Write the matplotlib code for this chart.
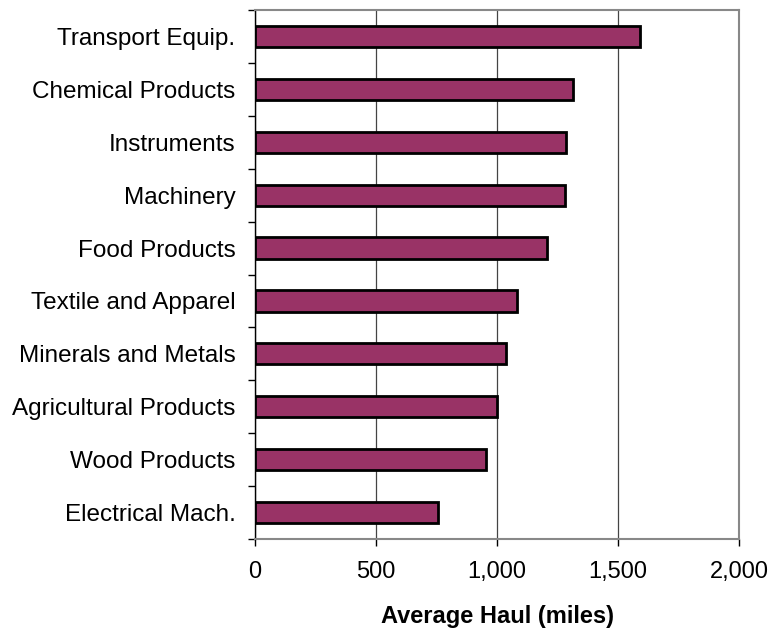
import matplotlib.pyplot as plt
import numpy as np

plt.rcParams['font.family'] = ['Liberation Sans', 'DejaVu Sans']

categories = ['Electrical Mach.', 'Wood Products', 'Agricultural Products',
              'Minerals and Metals', 'Textile and Apparel', 'Food Products',
              'Machinery', 'Instruments', 'Chemical Products', 'Transport Equip.']
avg_haul = [755, 953, 1001, 1036, 1084, 1208, 1282, 1285, 1315, 1591]
x_ticks = [0, 500, 1000, 1500, 2000]
x_tick_labels = ['0', '500', '1,000', '1,500', '2,000']

fig = plt.figure(figsize=(7.72, 6.33), dpi=100)
ax = fig.add_axes([0.3303, 0.1485, 0.6270, 0.8357])

y = np.arange(len(categories))
ax.barh(y, avg_haul, height=0.4, color='#993366', edgecolor='black', linewidth=2.0, zorder=3)

ax.set_xlim(0, 2000)
ax.set_ylim(-0.5, len(categories) - 0.5)
ax.set_xticks(x_ticks)
ax.set_xticklabels(x_tick_labels, fontsize=17)
ax.set_yticks(y)
ax.set_yticklabels(categories, fontsize=17.5)
ax.set_yticks(np.arange(-0.5, len(categories)), minor=True)
ax.tick_params(axis='y', which='major', length=0, pad=14)
ax.tick_params(axis='y', which='minor', length=5, width=1, direction='out', color='black')
ax.tick_params(axis='x', length=5, width=1, direction='out', pad=11)

ax.grid(axis='x', color='#444444', linewidth=0.9, zorder=0)

for side in ['top', 'right', 'bottom']:
    ax.spines[side].set_color('#888888')
    ax.spines[side].set_linewidth(1.5)
ax.spines['left'].set_color('black')
ax.spines['left'].set_linewidth(1.0)

ax.set_xlabel('Average Haul (miles)', fontsize=17, fontweight='bold', labelpad=16)

fig.savefig('out.png', dpi=100)
